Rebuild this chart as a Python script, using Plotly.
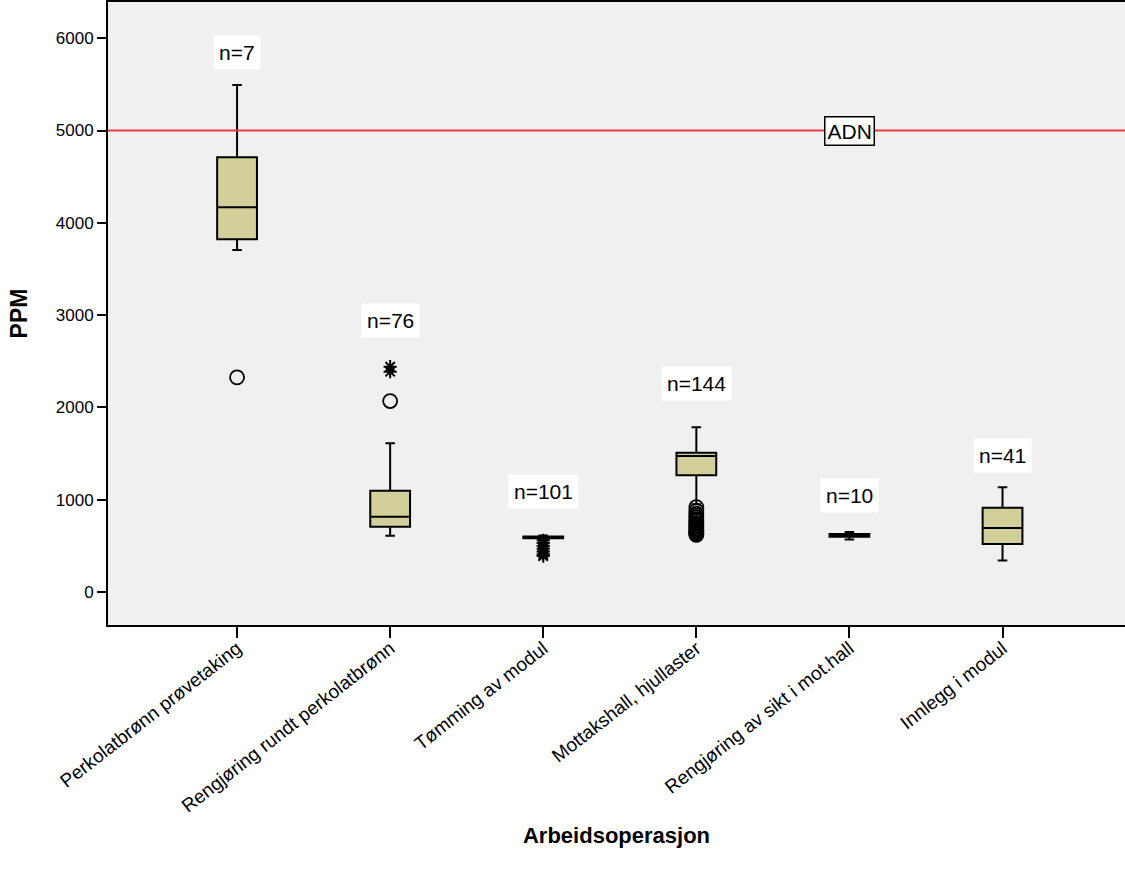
import plotly.graph_objects as go

categories = ["Perkolatbrønn prøvetaking", "Rengjøring rundt perkolatbrønn", "Tømming av modul",
              "Mottakshall, hjullaster", "Rengjøring av sikt i mot.hall", "Innlegg i modul"]
n_labels = ["n=7", "n=76", "n=101", "n=144", "n=10", "n=41"]
label_y = [5840, 2939, 1086, 2261, 1051, 1484]

lowerfence = [3705, 610, 572, 950, 570, 343]
q1 = [3821, 708, 582, 1264, 598, 520]
median = [4168, 816, 592, 1473, 612, 693]
q3 = [4709, 1098, 602, 1509, 628, 913]
upperfence = [5493, 1611, 612, 1784, 650, 1134]

circle_x = [categories[0], categories[1]] + [categories[3]] * 18
circle_y = [2326, 2069, 920, 880, 850, 830, 810, 790, 770, 750, 735, 720, 705, 690, 675, 660, 650, 640, 630, 620]
star_x = [categories[1]] * 2 + [categories[2]] * 7
star_y = [2441, 2387, 560, 530, 500, 470, 440, 410, 390]

limit_value = 5000
limit_label = "ADN"

FONT = "Arial, Liberation Sans, sans-serif"

fig = go.Figure()
fig.add_trace(go.Box(
    x=categories, q1=q1, median=median, q3=q3,
    lowerfence=lowerfence, upperfence=upperfence,
    width=0.26, whiskerwidth=0.24,
    fillcolor="#D3CF9A", line=dict(color="black", width=2),
    boxpoints=False, showlegend=False, hoverinfo="skip"))
fig.add_trace(go.Scatter(
    x=circle_x, y=circle_y, mode="markers",
    marker=dict(symbol="circle-open", size=14, color="black", line=dict(width=1.8)),
    showlegend=False, hoverinfo="skip"))
fig.add_trace(go.Scatter(
    x=star_x, y=star_y, mode="markers",
    marker=dict(symbol="asterisk-open", size=11, color="black", line=dict(width=2, color="black")),
    showlegend=False, hoverinfo="skip"))

fig.add_shape(type="line", xref="paper", x0=0, x1=1, yref="y", y0=limit_value, y1=limit_value,
              line=dict(color="#EC3A44", width=2))
fig.add_annotation(x=categories[4], y=limit_value, text=limit_label, showarrow=False,
                   bgcolor="white", bordercolor="black", borderwidth=1.5, borderpad=2,
                   font=dict(family=FONT, size=21, color="black"))
for c, t, yv in zip(categories, n_labels, label_y):
    fig.add_annotation(x=c, y=yv, text=t, showarrow=False, bgcolor="white", borderpad=5,
                       font=dict(family=FONT, size=21, color="black"))

fig.update_layout(
    width=1125, height=878,
    margin=dict(l=108, r=0, t=2, b=253),
    plot_bgcolor="#F0F0F0", paper_bgcolor="white",
    font=dict(family=FONT, size=17, color="black"),
    xaxis=dict(type="category", range=[-0.843, 5.80], showline=True, linecolor="black", linewidth=2,
               mirror=True, ticks="outside", ticklen=11, tickwidth=2, tickcolor="black",
               tickangle=-38, showgrid=False, zeroline=False, ticklabelstandoff=-8,
               tickfont=dict(family=FONT, size=19),
               title=dict(text="<b>Arbeidsoperasjon</b>", font=dict(family=FONT, size=22), standoff=12)),
    yaxis=dict(range=[-357, 6392], tickvals=[0, 1000, 2000, 3000, 4000, 5000, 6000],
               showline=True, linecolor="black", linewidth=2, ticks="outside", ticklen=9,
               tickwidth=2, tickcolor="black", showgrid=False, zeroline=False,
               tickfont=dict(family=FONT, size=17),
               title=dict(text="<b>PPM</b>", font=dict(family=FONT, size=23), standoff=22)),
)
fig.write_html("out.html")
